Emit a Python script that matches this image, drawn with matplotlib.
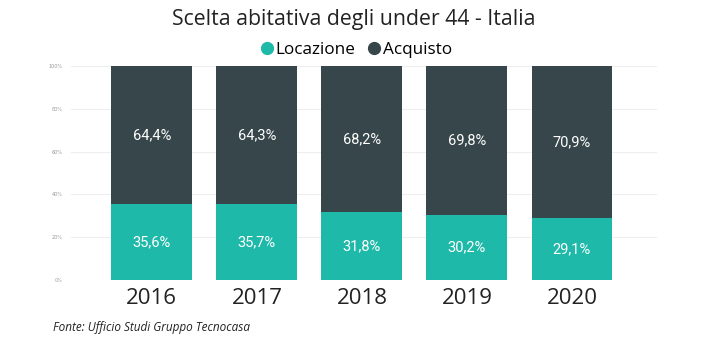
import matplotlib
matplotlib.use("Agg")
import matplotlib.pyplot as plt
from matplotlib.lines import Line2D

years = ["2016", "2017", "2018", "2019", "2020"]
locazione = [35.6, 35.7, 31.8, 30.2, 29.1]
acquisto = [64.4, 64.3, 68.2, 69.8, 70.9]
yticks = [0, 20, 40, 60, 80, 100]

c_loc = "#1FB9A9"
c_acq = "#37464B"

W, H = 705, 351
fig = plt.figure(figsize=(W / 100, H / 100), dpi=100)
ax = fig.add_axes([71 / W, (H - 280) / H, (657 - 71) / W, (280 - 66) / H])

x = list(range(len(years)))
bw = 0.77
ax.bar(x, locazione, width=bw, color=c_loc, zorder=2)
ax.bar(x, acquisto, width=bw, bottom=locazione, color=c_acq, zorder=2)

for i in x:
    ax.text(i, locazione[i] / 2, f"{locazione[i]:.1f}%".replace(".", ","),
            ha="center", va="center", color="white", fontsize=10.5, family="Roboto")
    ax.text(i, locazione[i] + acquisto[i] / 2, f"{acquisto[i]:.1f}%".replace(".", ","),
            ha="center", va="center", color="white", fontsize=10.5, family="Roboto")

ax.set_xlim(-0.77, 4.81)
ax.set_ylim(0, 100)
ax.set_yticks(yticks)
ax.set_yticklabels([f"{v}%" for v in yticks], fontsize=3.5, color="#999999")
ax.set_xticks(x)
ax.set_xticklabels(years, fontsize=16, color="#222222", family="Open Sans")
ax.tick_params(axis="both", length=0)
ax.tick_params(axis="x", pad=6)
ax.tick_params(axis="y", pad=6)
ax.grid(axis="y", color="#eeeeee", linewidth=0.8, zorder=0)
for s in ax.spines.values():
    s.set_visible(False)

fig.text(354 / W, 1 - 20 / H, "Scelta abitativa degli under 44 - Italia",
         ha="center", va="center", fontsize=15.3, color="#222222", family="Open Sans")

handles = [Line2D([], [], marker="o", linestyle="", markersize=8.5, color=c_loc),
           Line2D([], [], marker="o", linestyle="", markersize=8.5, color=c_acq)]
fig.legend(handles, ["Locazione", "Acquisto"], loc="center", bbox_to_anchor=(355 / W, 1 - 50 / H),
           ncol=2, frameon=False, handletextpad=0.0, columnspacing=0.6, handlelength=1.0,
           prop={"family": "Open Sans", "size": 12.3})

fig.text(53 / W, 1 - 327 / H, "Fonte: Ufficio Studi Gruppo Tecnocasa",
         ha="left", va="center", fontsize=8.5, style="italic", color="#222222", family="Open Sans")

fig.savefig("out.png", dpi=100)
